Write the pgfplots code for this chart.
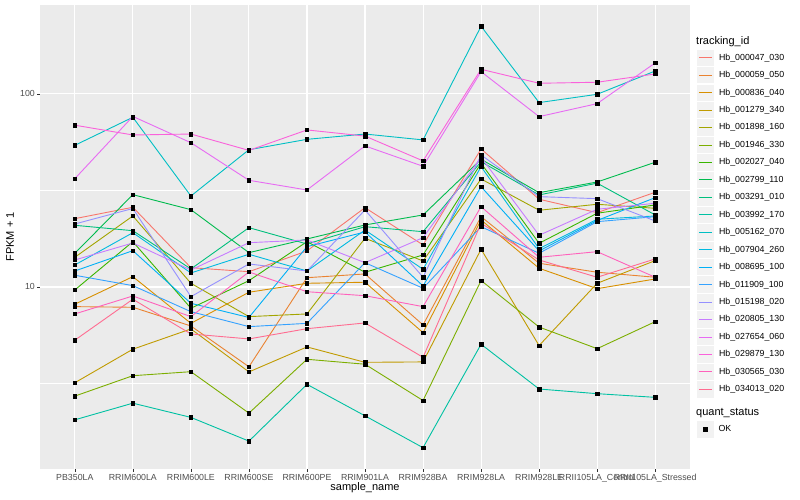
\documentclass[border=0pt]{standalone}
\usepackage{pgfplots}
\pgfplotsset{compat=1.18}
\usepackage{pgfplotstable}
\usepackage{fontspec}
\setmainfont{Liberation Sans}
\definecolor{c1}{HTML}{F8766D}
\definecolor{c2}{HTML}{EA8331}
\definecolor{c3}{HTML}{D89000}
\definecolor{c4}{HTML}{C09B00}
\definecolor{c5}{HTML}{A3A500}
\definecolor{c6}{HTML}{7CAE00}
\definecolor{c7}{HTML}{39B600}
\definecolor{c8}{HTML}{00BB4E}
\definecolor{c9}{HTML}{00BF7D}
\definecolor{c10}{HTML}{00C1A3}
\definecolor{c11}{HTML}{00BFC4}
\definecolor{c12}{HTML}{00BAE0}
\definecolor{c13}{HTML}{00B0F6}
\definecolor{c14}{HTML}{35A2FF}
\definecolor{c15}{HTML}{9590FF}
\definecolor{c16}{HTML}{C77CFF}
\definecolor{c17}{HTML}{E76BF3}
\definecolor{c18}{HTML}{FA62DB}
\definecolor{c19}{HTML}{FF62BC}
\definecolor{c20}{HTML}{FF6C91}
\definecolor{panelbg}{HTML}{EBEBEB}
\definecolor{keybg}{HTML}{F2F2F2}
\definecolor{grey30}{HTML}{4D4D4D}
\definecolor{grey20}{HTML}{333333}

% rows: samples 0..10 ; columns: tracking ids in legend order
\pgfplotstableread{
idx s1 s2 s3 s4 s5 s6 s7 s8 s9 s10 s11 s12 s13 s14 s15 s16 s17 s18 s19 s20
0 22.59 7.91 8.14 3.19 14.25 2.72 9.65 14.95 20.87 2.05 54.2 13.00 12.10 11.50 21.20 13.80 36.4 68.9 7.25 5.30
1 25.88 7.85 11.31 4.76 23.33 3.47 17.17 30.08 19.57 2.50 75.7 19.11 15.42 10.16 25.5 16.9 76.5 61.3 8.98 8.64
2 12.59 6.28 6.48 6.06 10.45 3.64 7.76 25.15 12.40 2.11 29.6 11.82 8.23 7.45 8.91 12.24 55.9 62.0 7.02 5.71
3 12.00 3.86 9.39 3.63 7.02 2.22 10.78 15.06 20.29 1.59 51.4 14.77 6.95 6.23 13.16 16.96 35.7 51.0 11.96 5.38
4 15.37 11.17 10.45 4.89 7.25 4.22 17.17 17.73 16.70 3.13 58.2 12.10 16.18 6.48 12.10 17.52 31.8 65.1 9.45 6.08
5 25.76 11.68 10.58 4.07 17.88 3.98 11.92 20.95 20.53 2.15 62.0 19.73 19.27 13.36 25.06 13.36 53.8 60.5 9.01 6.51
6 16.51 6.36 5.80 4.09 13.64 2.58 14.65 23.61 19.34 1.47 57.8 12.35 10.12 9.85 11.23 18.01 42.2 45.0 7.91 4.32
7 51.88 23.13 22.24 15.68 36.27 10.8 43.74 45.88 44.59 5.05 224.3 42.02 33.08 20.53 48.30 46.99 130.5 134.2 26.07 21.38
8 28.48 13.27 12.50 4.97 24.97 6.20 16.84 30.80 29.98 2.96 90.2 15.79 15.37 14.95 29.37 18.53 76.3 113.6 14.25 13.80
9 24.27 11.92 9.80 10.45 26.82 4.79 24.10 34.99 34.5 2.80 99.6 22.43 22.11 21.80 28.68 25.27 89.1 115.0 15.24 11.23
10 30.95 11.23 11.00 13.69 25.56 6.61 26.60 44.27 23.61 2.68 131.5 23.33 29.02 23.13 21.98 27.14 144.8 126.9 11.23 13.97
}\fpkm

\begin{document}
\begin{tikzpicture}
\useasboundingbox (0,0) rectangle (800pt,500pt);
\begin{axis}[
  at={(40pt,31pt)}, anchor=south west,
  scale only axis, width=650pt, height=464pt,
  xmin=-0.6, xmax=10.6,
  ymode=log, ymin=1.14, ymax=289,
  xtick={0,1,2,3,4,5,6,7,8,9,10},
  xticklabels={PB350LA,RRIM600LA,RRIM600LE,RRIM600SE,RRIM600PE,RRIM901LA,RRIM928BA,RRIM928LA,RRIM928LE,RRII105LA\_Control,RRII105LA\_Stressed},
  ytick={10,100}, yticklabels={10,100},
  minor ytick={3.1623,31.623},
  /pgf/number format/assume math mode=true,
  xmajorgrids, ymajorgrids, yminorgrids,
  major grid style={white, line width=1.07pt},
  minor grid style={white, line width=0.53pt},
  axis background/.style={fill=panelbg},
  axis line style={draw=none},
  tick pos=left,
  tick align=outside,
  major tick length=2.75pt, minor tick length=0pt,
  tick style={grey20, line width=0.5pt},
  x tick label style={font=\fontsize{8.8}{10}\selectfont, text=grey30, inner sep=0pt, anchor=north, yshift=-2.2pt},
  y tick label style={font=\fontsize{8.8}{10}\selectfont, text=grey30, inner sep=0pt, anchor=east, xshift=-2.2pt},
  xlabel={sample\_name}, ylabel={FPKM + 1},
  label style={font=\fontsize{11}{13}\selectfont, text=black},
  xlabel style={at={(axis description cs:0.5,-0.0399)}, anchor=center},
  ylabel style={at={(axis description cs:-0.0462,0.5)}, anchor=center},
  clip=false,
  legend cell align=left,
  legend style={at={(1,1)}, anchor=north west, xshift=7.3pt, yshift=-44.6pt,
    draw=none, fill=none, inner sep=0pt, outer sep=0pt, row sep=1.15pt, column sep=3.5pt,
    font=\fontsize{8.8}{10}\selectfont, text=black},
  legend image code/.code={
    \fill[keybg] (0pt,-7.7pt) rectangle (15.4pt,7.7pt);
    \draw[#1, line width=0.9pt] (1pt,0pt) -- (14.4pt,0pt);
  },
  legend entries={Hb\_000047\_030,Hb\_000059\_050,Hb\_000836\_040,Hb\_001279\_340,Hb\_001898\_160,Hb\_001946\_330,Hb\_002027\_040,Hb\_002799\_110,Hb\_003291\_010,Hb\_003992\_170,Hb\_005162\_070,Hb\_007904\_260,Hb\_008695\_100,Hb\_011909\_100,Hb\_015198\_020,Hb\_020805\_130,Hb\_027654\_060,Hb\_029879\_130,Hb\_030565\_030,Hb\_034013\_020},
]
\pgfplotsinvokeforeach{1,...,20}{
  \addplot[c#1, line width=0.9pt, no marks] table[x=idx, y=s#1]{\fpkm};
}
\pgfplotsinvokeforeach{1,...,20}{
  \addplot[forget plot, only marks, mark=square*, mark size=1.7pt, mark options={black, fill=black, draw=black}] table[x=idx, y=s#1]{\fpkm};
}
\end{axis}
\begin{axis}[
  at={(40pt,31pt)}, anchor=south west,
  scale only axis, width=650pt, height=464pt,
  hide axis, xmin=0, xmax=1, ymin=0, ymax=1,
  legend cell align=left,
  legend style={at={(1,1)}, anchor=north west, xshift=7.3pt, yshift=-416.3pt,
    draw=none, fill=none, inner sep=0pt, outer sep=0pt, row sep=1.15pt, column sep=3.5pt,
    font=\fontsize{8.8}{10}\selectfont, text=black},
  legend image code/.code={
    \fill[keybg] (0pt,-7.7pt) rectangle (15.4pt,7.7pt);
    \path[mark=square*, mark size=1.7pt, mark options={black, fill=black}] plot[only marks] coordinates {(7.7pt,0pt)};
  },
]
\addlegendimage{only marks, mark=square*, black}
\addlegendentry{OK}
\end{axis}
\node[anchor=west, font=\fontsize{11}{13}\selectfont, inner sep=0pt] at (696pt,458pt) {tracking\_id};
\node[anchor=west, font=\fontsize{11}{13}\selectfont, inner sep=0pt] at (696pt,86.5pt) {quant\_status};
\end{tikzpicture}
\end{document}
